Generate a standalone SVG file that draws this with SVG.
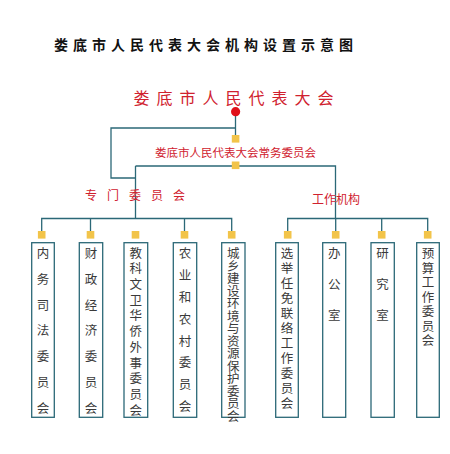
<svg xmlns="http://www.w3.org/2000/svg" width="450" height="454" viewBox="0 0 450 454">
<style>
.ln{stroke:#2b6877;stroke-width:1.3;fill:none}
.sq{fill:#f2c44a}
.bx{fill:#fff;stroke:#2b6877;stroke-width:1.3}
.t{font-family:"Noto Sans CJK SC","Noto Sans CJK JP",sans-serif;fill:#3a3a3a;font-size:12.5px;writing-mode:vertical-rl;text-orientation:upright}
.r{font-family:"Noto Sans CJK SC","Noto Sans CJK JP",sans-serif;fill:#d0212e;text-anchor:middle}
</style>
<rect width="450" height="454" fill="#fff"/>
<text x="206" y="50" font-family="Noto Sans CJK SC,Noto Sans CJK JP,sans-serif" font-weight="bold" font-size="14" letter-spacing="5" text-anchor="middle" fill="#111">娄底市人民代表大会机构设置示意图</text>
<g id="connectors">
<path class="ln" d="M235.5 112V139M235.5 128H111V178H135.5M135.5 166H335.5V218M135.5 166V218M41.7 235V218.5H231.7V235M90.5 218.5V235M184.5 218.5V235M287.7 235V218.5H427.7V235M335.7 218.5V235M381.7 218.5V235"/>
</g>
<g id="n0"><text class="r" x="237" y="104" font-size="16" letter-spacing="7">娄底市人民代表大会</text><circle cx="235.6" cy="111.7" r="4.6" fill="#e0101a"/></g>
<g id="n1"><rect class="sq" x="231.8" y="135" width="7.6" height="7.6"/><text class="r" x="235.5" y="156.5" font-size="11.5">娄底市人民代表大会常务委员会</text><rect class="sq" x="231.8" y="161.5" width="7.6" height="7.6"/></g>
<g id="n2"><text class="r" x="140" y="200" font-size="12" letter-spacing="10">专门委员会</text></g>
<g id="n3"><text class="r" x="336" y="204" font-size="12">工作机构</text></g>
<g id="b1"><rect class="sq" x="37.9" y="231" width="7.6" height="7.6"/><rect class="bx" x="31.7" y="242.7" width="22.6" height="174.6"/>
<text class="t" x="43" y="247" letter-spacing="13.3">内务司法委员会</text></g>
<g id="b2"><rect class="sq" x="86.7" y="231" width="7.6" height="7.6"/><rect class="bx" x="79.3" y="242.7" width="23.4" height="174.6"/>
<text class="t" x="91" y="247" letter-spacing="13.3">财政经济委员会</text></g>
<g id="b3"><rect class="sq" x="131.7" y="231" width="7.6" height="7.6"/><rect class="bx" x="124" y="242.7" width="23.7" height="174.6"/>
<text class="t" x="135.8" y="246.7" font-size="12" letter-spacing="3.2">教科文卫华侨外事委员会</text></g>
<g id="b4"><rect class="sq" x="180.7" y="231" width="7.6" height="7.6"/><rect class="bx" x="173.3" y="242.7" width="23.4" height="174.6"/>
<text class="t" x="185" y="247" letter-spacing="9.4">农业和农村委员会</text></g>
<g id="b5"><rect class="sq" x="227.9" y="231" width="7.6" height="7.6"/><rect class="bx" x="221.7" y="242.7" width="23.3" height="174.6"/>
<text class="t" x="233.3" y="247.2" font-size="11" letter-spacing="0">城乡建设环境与资源保护委员会</text></g>
<g id="b6"><rect class="sq" x="283.9" y="231" width="7.6" height="7.6"/><rect class="bx" x="275.7" y="242.7" width="22.6" height="174.6"/>
<text class="t" x="287" y="247" letter-spacing="2.5">选举任免联络工作委员会</text></g>
<g id="b7"><rect class="sq" x="331.9" y="231" width="7.6" height="7.6"/><rect class="bx" x="322.7" y="242.7" width="23" height="174.6"/>
<text class="t" x="334.2" y="247" letter-spacing="18.5">办公室</text></g>
<g id="b8"><rect class="sq" x="377.9" y="231" width="7.6" height="7.6"/><rect class="bx" x="371" y="242.7" width="23.3" height="174.6"/>
<text class="t" x="382.6" y="247" letter-spacing="18.5">研究室</text></g>
<g id="b9"><rect class="sq" x="423.9" y="231" width="7.6" height="7.6"/><rect class="bx" x="416.7" y="242.7" width="22.6" height="174.6"/>
<text class="t" x="428" y="247" letter-spacing="2">预算工作委员会</text></g>
</svg>
